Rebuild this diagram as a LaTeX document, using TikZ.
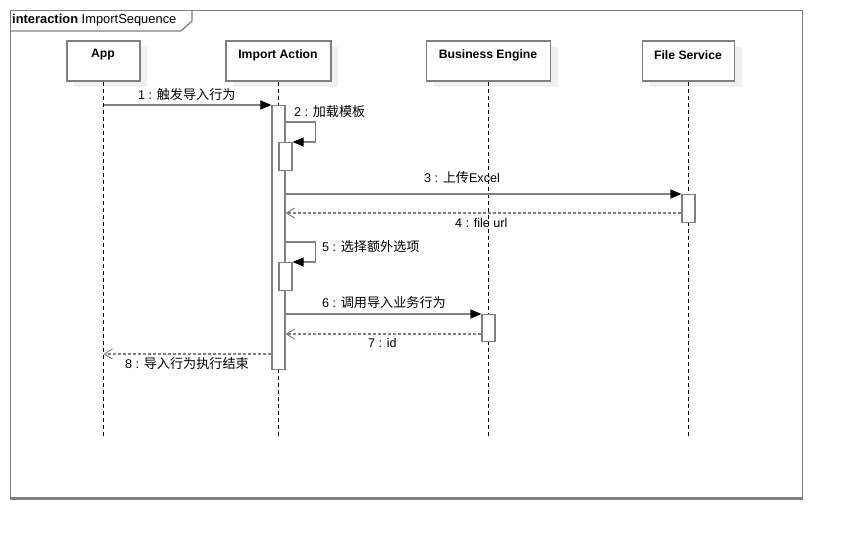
\documentclass[tikz,border=0pt]{standalone}
\usepackage{fontspec}
\setmainfont{Liberation Sans}
\newfontfamily\cjk{Noto Sans CJK SC}[Scale=1.04]
\usetikzlibrary{arrows.meta,shadows}

\definecolor{linegray}{HTML}{808080}
\definecolor{shadowgray}{HTML}{F0F0F0}

\begin{document}
\begin{tikzpicture}[x=1pt,y=-1pt,
  font=\fontsize{12.6}{14}\selectfont,
  frameline/.style={draw=linegray, line width=1.3pt},
  headbox/.style={draw=linegray, line width=1.3pt, fill=white, minimum height=40pt,
    inner sep=0pt, drop shadow={shadow xshift=7pt, shadow yshift=-6pt, fill=shadowgray, opacity=1}},
  headtext/.style={font=\fontsize{12.2}{14}\selectfont\bfseries, inner sep=0pt},
  lifeline/.style={draw=black, line width=0.9pt, dash pattern=on 4pt off 3pt},
  actbar/.style={draw=linegray, line width=1.3pt, fill=white, minimum width=13pt, inner sep=0pt, anchor=north},
  msg/.style={draw=linegray, line width=1.3pt, -{Triangle[length=11pt,width=9pt,color=black]}},
  reply/.style={draw=linegray, line width=1.3pt, dash pattern=on 3pt off 2pt,
    -{Straight Barb[length=8pt,width=10pt,line width=1pt]}},
  msglabel/.style={anchor=west, inner sep=0pt}
]
\useasboundingbox (0,0) rectangle (842,538);

% interaction frame and its name tab
\node[frameline, minimum width=792pt, minimum height=487pt, inner sep=0pt, anchor=north west] (frame) at (10,10) {};
\draw[draw=linegray, line width=2.4pt] (frame.south west) -- (frame.south east);
\draw[frameline] (frame.north west |- 0,31) -- (181,31) -- (192,21) -- (frame.north west -| 192,0);
\node[anchor=west, inner sep=0pt, font=\fontsize{12.9}{14}\selectfont] (frametitle) at (12,20) {\textbf{interaction} ImportSequence};

% lifeline heads
\node[headbox, minimum width=73pt]  (app) at (103.5,61) {};
\node[headbox, minimum width=105pt] (ia)  at (278.5,61) {};
\node[headbox, minimum width=124pt] (be)  at (488.5,61) {};
\node[headbox, minimum width=92pt]  (fs)  at (688.5,61) {};
\node[headtext] (appname) at (103,55) {App};
\node[headtext] (ianame)  at (278,55) {Import Action};
\node[headtext] (bename)  at (488,55) {Business Engine};
\node[headtext] (fsname)  at (688,55) {File Service};

% lifelines
\coordinate (append) at (103.5,438);
\coordinate (iaend)  at (278.5,438);
\coordinate (beend)  at (488.5,438);
\coordinate (fsend)  at (688.5,438);
\draw[lifeline] (app.south) -- (append);
\draw[lifeline] (ia.south) -- (iaend);
\draw[lifeline] (be.south) -- (beend);
\draw[lifeline] (fs.south) -- (fsend);

% activation bars
\node[actbar, minimum height=264pt] (ia1) at (278.5,105) {};
\node[actbar, minimum height=28pt]  (ia2) at (285.5,142) {};
\node[actbar, minimum height=28pt]  (ia3) at (285.5,262) {};
\node[actbar, minimum height=28pt]  (fs1) at (688.5,194) {};
\node[actbar, minimum height=27pt]  (be1) at (488.5,314) {};

% messages
\draw[msg] (app.south |- ia1.north west) -- (ia1.north west);
\node[msglabel] (m1) at (138,95) {1 : {\cjk 触发导入行为}};

\draw[msg] (ia1.east |- 0,122) -- ++(30,0) |- (ia2.north east);
\node[msglabel] (m2) at (294,112) {2 : {\cjk 加载模板}};

\draw[msg] (ia1.east |- fs1.north west) -- (fs1.north west);
\node[msglabel] (m3) at (424,178) {3 : {\cjk 上传}Excel};

\draw[reply] (fs1.west |- 0,213) -- (ia1.east |- 0,213);
\node[msglabel] (m4) at (455,223) {4 : file url};

\draw[msg] (ia1.east |- 0,242) -- ++(30,0) |- (ia3.north east);
\node[msglabel] (m5) at (322,247) {5 : {\cjk 选择额外选项}};

\draw[msg] (ia1.east |- be1.north west) -- (be1.north west);
\node[msglabel] (m6) at (322,303) {6 : {\cjk 调用导入业务行为}};

\draw[reply] (be1.west |- 0,334) -- (ia1.east |- 0,334);
\node[msglabel] (m7) at (368,343) {7 : id};

\draw[reply] (ia1.west |- 0,354) -- (app.south |- 0,354);
\node[msglabel] (m8) at (125,364) {8 : {\cjk 导入行为执行结束}};
\end{tikzpicture}
\end{document}
